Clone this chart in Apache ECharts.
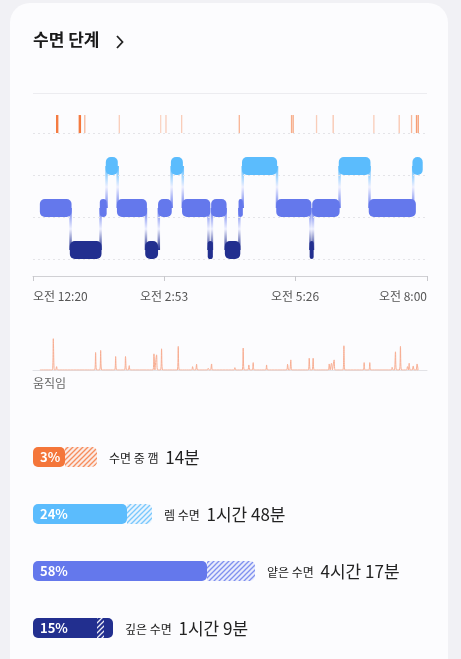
<!DOCTYPE html>
<html lang="ko">
<head>
<meta charset="UTF-8">
<title>수면 단계</title>
<script src="https://cdn.jsdelivr.net/npm/echarts/dist/echarts.min.js"></script>
<style>
  html, body { margin: 0; padding: 0; background: #f1f1f5; }
  #chart { width: 461px; height: 659px; }
</style>
</head>
<body>
<div id="chart"></div>
<script>
// minutes since 0:20
var tickValues = [0, 153, 306, 460];
var tickLabels = ['오전 12:20', '오전 2:53', '오전 5:26', '오전 8:00'];

// stage rows: 3 awake, 2 REM, 1 light, 0 deep
var segStart = [8, 43, 78, 85, 98, 131, 146, 161, 174, 204, 208, 224, 240, 244, 284, 323, 326, 357, 392, 443];
var segEnd   = [45, 80, 86, 99, 133, 146, 162, 175, 207, 210, 226, 242, 245, 285, 325, 327, 358, 394, 447, 455];
var segRow   = [1, 0, 1, 2, 1, 0, 1, 2, 1, 0, 1, 0, 1, 2, 1, 0, 1, 2, 1, 2];

var awakeAt      = [27.6, 28.8, 54, 55.3, 60.4, 100.7, 149, 155.2, 173.5, 240.8, 301.8, 303.7, 331, 350.4, 397.9, 427.5, 441.9, 447.7, 449.7];
var awakeOpacity = [1, 1, 1, 1, 0.5, 0.35, 0.3, 0.35, 0.35, 0.55, 0.6, 0.6, 0.35, 0.4, 0.35, 0.4, 0.5, 0.7, 0.7];

var moveAt = [23.7, 27.6, 73.1, 79, 96.5, 108, 112.4, 141.2, 144.3, 150.1, 169.6, 186.3, 191, 204.6, 208.5, 235.7, 245.4, 252, 257.1, 272.7, 297.2, 301, 322.5, 327.1, 345.8, 348.5, 351.6, 363, 386.6, 393.2, 419.3, 423.2, 429, 437.2, 439.2, 443.9, 448.4];
var moveVal = [93, 10, 52, 58, 40, 40, 13, 48, 45, 63, 70, 10, 17, 5, 18, 7, 65, 15, 22, 15, 17, 30, 35, 35, 18, 20, 30, 72, 22, 22, 8, 54, 70, 10, 20, 12, 18];

var stageNames = ['수면 중 깸', '렘 수면', '얕은 수면', '깊은 수면'];
var stagePct   = ['3%', '24%', '58%', '15%'];
var stageTime  = ['14분', '1시간 48분', '4시간 17분', '1시간 9분'];
var barLen     = [32, 94, 174, 80];
var rangeLo    = [32, 94, 174, 64];
var rangeHi    = [64, 119, 222, 71];

var rowColors = ['#222f8f', '#6478ec', '#5bbcfd', '#f4763a'];
var barColors = ['#f4763a', '#5bbcfd', '#6478ec', '#222f8f'];
var FONT = '"Noto Sans CJK KR", "Noto Sans", sans-serif';

function hatch(color, inside) {
  var c = document.createElement('canvas');
  c.width = 5; c.height = 5;
  var g = c.getContext('2d');
  if (inside) { g.fillStyle = color; g.fillRect(0, 0, 5, 5); }
  else { g.fillStyle = color; g.globalAlpha = 0.12; g.fillRect(0, 0, 5, 5); }
  g.globalAlpha = inside ? 0.9 : 0.8;
  g.strokeStyle = inside ? '#ffffff' : color; g.lineWidth = 1.3;
  g.beginPath();
  g.moveTo(-1, 6); g.lineTo(6, -1);
  g.moveTo(-1, 1); g.lineTo(1, -1);
  g.moveTo(4, 6); g.lineTo(6, 4);
  g.stroke();
  return c;
}

var segData = segStart.map(function (s, i) {
  return [s, segEnd[i], segRow[i], i > 0 ? segRow[i - 1] : -1];
});

var moveData = [[8, 0]];
moveAt.forEach(function (m, i) {
  moveData.push([m - 1.2, 0], [m, moveVal[i]], [m + 1.2, 0]);
});
moveData.push([448, 0]);

var chart = echarts.init(document.getElementById('chart'));
chart.setOption({
  animation: false,
  textStyle: { fontFamily: FONT },
  graphic: [
    { type: 'rect', z: -10, shape: { x: 10, y: 3, width: 438, height: 700, r: 20 }, style: { fill: '#fcfcfe' } },
    { type: 'text', left: 33, top: 31, style: { text: '수면 단계', font: 'bold 17px ' + FONT, fill: '#1a1a1a' } },
    { type: 'polyline', shape: { points: [[117, 36], [122.5, 42], [117, 48]] }, style: { stroke: '#222', lineWidth: 1.8, fill: null } },
    { type: 'text', left: 33, top: 377, style: { text: '움직임', font: '12px ' + FONT, fill: '#666' } }
  ],
  grid: [
    { left: 33, width: 394, top: 93, height: 183 },
    { left: 33, width: 394, top: 335, height: 35 },
    { left: 33, width: 400, top: 428.5, height: 228 }
  ],
  xAxis: [
    {
      gridIndex: 0, type: 'value', min: 0, max: 460,
      splitLine: { show: false },
      axisLine: { onZero: false, lineStyle: { color: '#d0d0d4' } },
      axisTick: { show: true, customValues: tickValues, length: 5, lineStyle: { color: '#c8c8cc' } },
      axisLabel: {
        customValues: tickValues, margin: 14, color: '#555', fontSize: 12,
        alignMinLabel: 'left', alignMaxLabel: 'right',
        formatter: function (v) { return tickLabels[tickValues.indexOf(v)]; }
      }
    },
    {
      gridIndex: 1, type: 'value', min: 0, max: 460,
      splitLine: { show: false }, axisTick: { show: false }, axisLabel: { show: false },
      axisLine: { onZero: false, lineStyle: { color: '#e2e2e6' } }
    },
    { gridIndex: 2, type: 'value', min: 0, max: 400, show: false }
  ],
  yAxis: [
    { gridIndex: 0, type: 'value', min: -0.62, max: 3.74, show: false },
    { gridIndex: 1, type: 'value', min: 0, max: 104, show: false },
    { gridIndex: 2, type: 'category', inverse: true, data: stageNames, show: false }
  ],
  series: [
    {
      type: 'custom', xAxisIndex: 0, yAxisIndex: 0,
      data: [[0, 0]],
      silent: true,
      renderItem: function () { return { type: 'group', children: [] }; },
      markLine: {
        silent: true, symbol: 'none', label: { show: false },
        lineStyle: { color: '#e4e4e8', type: [2, 3], width: 1 },
        data: [{ yAxis: 2.79 }, { yAxis: 1.79 }, { yAxis: 0.79 }, { yAxis: -0.21 },
               { yAxis: 3.74, lineStyle: { type: 'solid', color: '#ececf0' } }]
      }
    },
    {
      type: 'custom', xAxisIndex: 0, yAxisIndex: 0,
      data: segData,
      renderItem: function (params, api) {
        var a = api.coord([api.value(0), api.value(2)]);
        var b = api.coord([api.value(1), api.value(2)]);
        var row = api.value(2), prev = api.value(3);
        var col = rowColors[row];
        var children = [{
          type: 'rect', z2: 2,
          shape: { x: a[0], y: a[1] - 9, width: Math.max(b[0] - a[0], 4), height: 18, r: 5 },
          style: { fill: col }
        }];
        if (prev >= 0) {
          var p = api.coord([api.value(0), prev]);
          var y0 = Math.min(p[1], a[1]), y1 = Math.max(p[1], a[1]);
          var topCol = p[1] < a[1] ? rowColors[prev] : col;
          var botCol = p[1] < a[1] ? col : rowColors[prev];
          children.push({
            type: 'rect', z2: 1,
            shape: { x: a[0] - 0.5, y: y0, width: 2.5, height: y1 - y0 },
            style: {
              fill: new echarts.graphic.LinearGradient(0, 0, 0, 1, [
                { offset: 0, color: topCol },
                { offset: 0.5, color: '#eef0ff' },
                { offset: 1, color: botCol }
              ])
            }
          });
        }
        return { type: 'group', children: children };
      }
    },
    {
      type: 'custom', xAxisIndex: 0, yAxisIndex: 0,
      data: awakeAt.map(function (m, i) { return [m, awakeOpacity[i]]; }),
      renderItem: function (params, api) {
        var c = api.coord([api.value(0), 3]);
        return {
          type: 'rect',
          shape: { x: c[0] - 0.6, y: c[1] - 9, width: 1.3, height: 18 },
          style: { fill: '#f4763a', opacity: api.value(1) }
        };
      }
    },
    {
      type: 'line', xAxisIndex: 1, yAxisIndex: 1,
      data: moveData, symbol: 'none', smooth: 0.3,
      lineStyle: { color: '#f7ad92', width: 1 }
    },
    {
      type: 'custom', xAxisIndex: 2, yAxisIndex: 2,
      data: barLen.map(function (v, i) { return [v, i, rangeLo[i], rangeHi[i]]; }),
      renderItem: function (params, api) {
        var i = api.value(1);
        var o = api.coord([0, i]);
        var e = api.coord([api.value(0), i]);
        var lo = api.coord([api.value(2), i]);
        var hi = api.coord([api.value(3), i]);
        var col = barColors[i];
        var inside = hi[0] <= e[0];
        var end = Math.max(e[0], hi[0]);
        return {
          type: 'group',
          children: [
            { type: 'rect', shape: { x: o[0], y: o[1] - 10, width: e[0] - o[0], height: 20, r: 5 }, style: { fill: col } },
            { type: 'rect', shape: { x: lo[0], y: o[1] - 10, width: hi[0] - lo[0], height: 20, r: inside ? 0 : [0, 5, 5, 0] },
              style: { fill: { image: hatch(col, inside), repeat: 'repeat' } } },
            { type: 'text', style: { x: o[0] + 7, y: o[1], text: stagePct[i], fill: '#fff', font: 'bold 13px ' + FONT, verticalAlign: 'middle' } },
            { type: 'text', style: {
                x: end + 12, y: o[1] + 1, verticalAlign: 'middle',
                text: '{a|' + stageNames[i] + '}  {b|' + stageTime[i] + '}',
                rich: {
                  a: { fontSize: 12, fontFamily: FONT, fill: '#222' },
                  b: { fontSize: 17, fontFamily: FONT, fill: '#222' }
                }
              } }
          ]
        };
      }
    }
  ]
});
</script>
</body>
</html>
